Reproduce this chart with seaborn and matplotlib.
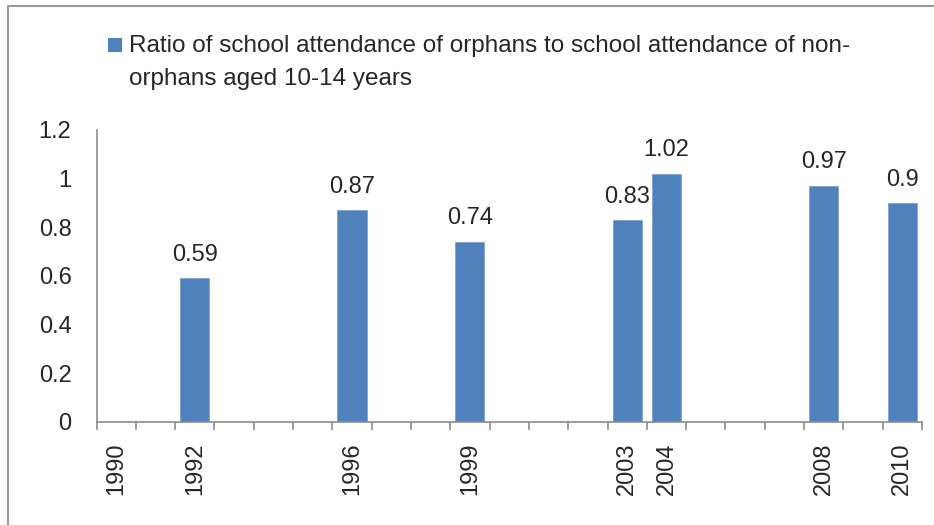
import matplotlib
matplotlib.use("Agg")
import matplotlib.pyplot as plt
from matplotlib.patches import Rectangle
from matplotlib.lines import Line2D
import seaborn as sns
import pandas as pd

# Category axis: every year from 1990 to 2010
years = [str(y) for y in range(1990, 2011)]
labelled_years = ["1990", "1992", "1996", "1999", "2003", "2004", "2008", "2010"]

# Survey years with a measured ratio
data_years = ["1992", "1996", "1999", "2003", "2004", "2008", "2010"]
ratios = [0.59, 0.87, 0.74, 0.83, 1.02, 0.97, 0.90]
value_labels = ["0.59", "0.87", "0.74", "0.83", "1.02", "0.97", "0.9"]

series_name = ("Ratio of school attendance of orphans to school attendance of non-",
               "orphans aged 10-14 years")

df = pd.DataFrame({"year": data_years, "ratio": ratios})

sns.set_theme(style="white")
plt.rcParams["font.family"] = ["Liberation Sans", "DejaVu Sans"]

FS = 17
W, H = 934, 525
fig = plt.figure(figsize=(W / 100, H / 100), dpi=100)
ax = fig.add_axes([96.5 / W, 1 - 422 / H, (922 - 96.5) / W, (422 - 130) / H])

bar_color = "#4F81BD"
sns.barplot(data=df, x="year", y="ratio", order=years, color=bar_color,
            saturation=1, width=0.74, ax=ax, edgecolor="#7FA3D1", linewidth=0.6)

ax.set_xlim(-0.5, len(years) - 0.5)
ax.set_ylim(0, 1.2)
ax.set_yticks([0, 0.2, 0.4, 0.6, 0.8, 1.0, 1.2])
ax.set_yticklabels(["0", "0.2", "0.4", "0.6", "0.8", "1", "1.2"], fontsize=FS)

# Year labels only where a survey was done (plus the first year)
ax.set_xticks(range(len(years)))
ax.set_xticklabels([y if y in labelled_years else "" for y in years],
                   rotation=90, fontsize=FS, va="top", ha="center")
ax.tick_params(axis="x", which="major", length=0, pad=15)
ax.tick_params(axis="y", which="both", length=0, pad=18)
# Tick marks between categories
ax.set_xticks([i - 0.5 for i in range(len(years) + 1)], minor=True)
ax.tick_params(axis="x", which="minor", length=5.5, width=1.2, color="#8C8C8C",
               direction="out", bottom=True)

ax.set_xlabel("")
ax.set_ylabel("")
ax.grid(False)
for side in ["top", "right"]:
    ax.spines[side].set_visible(False)
for side in ["left", "bottom"]:
    ax.spines[side].set_color("#8C8C8C")
    ax.spines[side].set_linewidth(1.2)

ax.bar_label(ax.containers[0], labels=value_labels, padding=9, fontsize=FS)

# Series key above the plot
fig.patches.append(Rectangle((108 / W, 1 - 52 / H), 14 / W, 14 / H,
                             transform=fig.transFigure, facecolor=bar_color,
                             edgecolor="none"))
fig.text(129 / W, 1 - 52 / H, series_name[0], fontsize=17.5, va="baseline", ha="left")
fig.text(129 / W, 1 - 85 / H, series_name[1], fontsize=17.5, va="baseline", ha="left")

# Chart frame
frame_kw = dict(transform=fig.transFigure, color="#9A9A9A", linewidth=1.5)
fig.lines.append(Line2D([8 / W, 8 / W], [0, 1 - 6 / H], **frame_kw))
fig.lines.append(Line2D([8 / W, 1], [1 - 6 / H, 1 - 6 / H], **frame_kw))

fig.savefig("out.png", dpi=100)
